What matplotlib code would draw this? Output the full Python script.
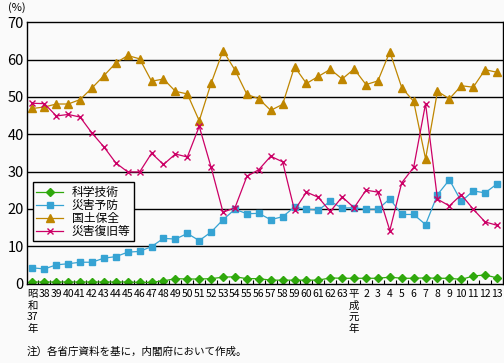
import matplotlib
matplotlib.use("Agg")
import matplotlib.pyplot as plt
import numpy as np

plt.rcParams["font.family"] = ["Noto Sans CJK JP", "DejaVu Sans"]

# 昭和37年(1962) ～ 平成13年(2001)
year_labels = ["昭\n和\n37\n年"] + [str(y) for y in range(38, 64)] + ["平\n成\n元\n年"] + [str(y) for y in range(2, 14)]

kagaku = [0.4, 0.4, 0.4, 0.4, 0.4, 0.4, 0.4, 0.4, 0.4, 0.3, 0.3, 0.7, 1.3, 1.2, 1.2, 1.3, 1.7, 1.8, 1.3, 1.3,
          0.9, 0.9, 0.9, 0.9, 0.9, 1.5, 1.4, 1.4, 1.4, 1.4, 1.7, 1.4, 1.4, 1.5, 1.4, 1.4, 1.1, 2.0, 2.3, 1.5]
yobo = [4.2, 3.9, 5.0, 5.3, 5.7, 5.7, 6.8, 7.2, 8.4, 8.6, 9.9, 12.1, 11.9, 13.4, 11.5, 13.8, 17.1, 19.9, 18.7, 18.8,
        17.1, 17.9, 20.5, 19.9, 19.7, 22.0, 20.2, 20.3, 19.9, 19.9, 22.7, 18.5, 18.5, 15.8, 23.8, 27.8, 22.0, 24.8, 24.3, 26.7]
hozen = [46.9, 47.3, 48.1, 48.1, 49.3, 52.4, 55.7, 59.1, 61.1, 60.2, 54.2, 54.8, 51.5, 50.8, 43.6, 53.7, 62.4, 57.2, 50.7, 49.5,
         46.4, 48.0, 58.1, 53.6, 55.5, 57.4, 54.8, 57.5, 53.3, 54.3, 62.1, 52.5, 48.8, 33.4, 51.5, 49.5, 53.0, 52.6, 57.3, 56.6]
fukkyu = [48.3, 48.2, 44.9, 45.3, 44.6, 40.3, 36.6, 32.3, 29.9, 29.9, 34.9, 31.9, 34.7, 33.9, 42.1, 31.1, 19.1, 20.3, 28.7, 30.5,
          34.1, 32.6, 19.6, 24.5, 23.1, 19.3, 23.2, 20.3, 25.0, 24.5, 14.2, 27.0, 31.1, 48.2, 22.6, 20.8, 23.8, 19.9, 16.5, 15.6]

series_names = ["科学技術", "災害予防", "国土保全", "災害復旧等"]

x = np.arange(len(year_labels))

fig = plt.figure(figsize=(5.04, 3.63), dpi=100)
fig.patch.set_facecolor("#fafafa")
ax = fig.add_axes([0.0526, 0.219, 0.9454, 0.7196])
ax.set_facecolor("#fafafa")

ax.plot(x, kagaku, color="#2fa80c", marker="D", markersize=4.2, lw=0.9, label=series_names[0])
ax.plot(x, yobo, color="#36a3d3", marker="s", markersize=4.8, lw=0.9, label=series_names[1])
ax.plot(x, hozen, color="#bf8600", marker="^", markersize=5.3, lw=0.9, label=series_names[2])
ax.plot(x, fukkyu, color="#cc0066", marker="x", markersize=4.8, mew=1.0, lw=0.9, label=series_names[3])

ax.set_xlim(-0.5, len(year_labels) - 0.5)
ax.set_ylim(0, 70)
ax.set_yticks(range(0, 71, 10))
ax.tick_params(axis="y", length=0, labelsize=10.5, pad=2)
for v in range(10, 70, 10):
    ax.axhline(v, color="black", lw=1.0, zorder=0)

ax.set_xticks(x)
ax.set_xticklabels(year_labels, fontsize=7.5, linespacing=1.2, va="top")
ax.tick_params(axis="x", which="major", length=0, pad=4)
ax.set_xticks(np.arange(0.5, len(year_labels) - 1, 1), minor=True)
ax.tick_params(axis="x", which="minor", direction="in", length=3, width=0.8)

for s in ax.spines.values():
    s.set_color("black")
    s.set_linewidth(1.0)

leg = ax.legend(loc="lower left", bbox_to_anchor=(0.013, 0.162), borderaxespad=0,
                fontsize=8.5, handlelength=2.3, handletextpad=0.7, labelspacing=0.0,
                fancybox=False, edgecolor="black", framealpha=1, facecolor="#fafafa",
                borderpad=0.3)
leg.get_frame().set_linewidth(1.0)

fig.text(8 / 504, 1 - 8 / 363, "(%)", fontsize=8, va="center", ha="left")
fig.text(27 / 504, 1 - 352 / 363, "注）各省庁資料を基に，内閣府において作成。", fontsize=7.6, va="center", ha="left")

fig.savefig("out.png", dpi=100, facecolor=fig.get_facecolor())
